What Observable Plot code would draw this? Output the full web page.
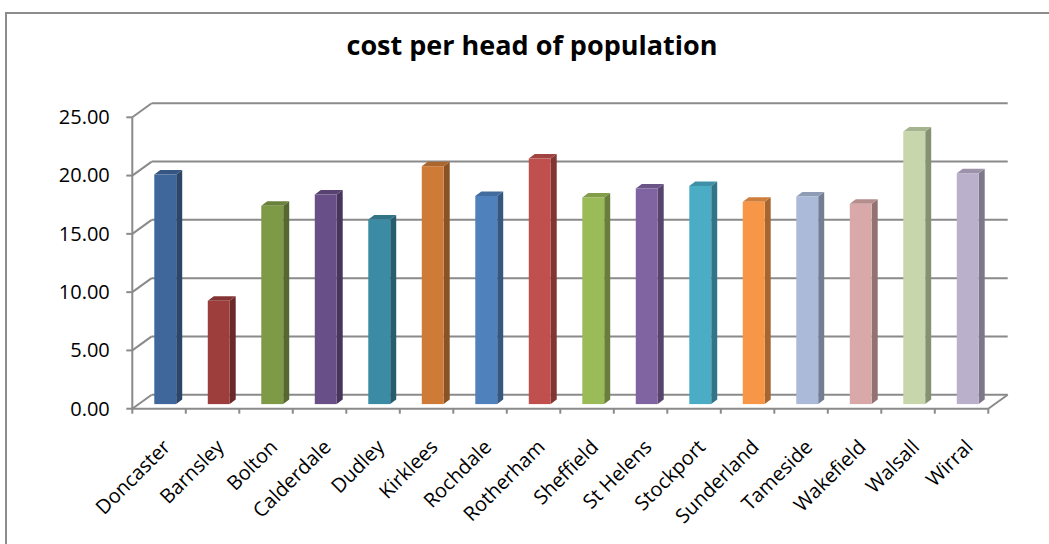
<!DOCTYPE html>
<html>
<head>
<meta charset="utf-8">
<script src="https://cdn.jsdelivr.net/npm/d3@7"></script>
<script src="https://cdn.jsdelivr.net/npm/@observablehq/plot@0.6"></script>
<style>
  body { margin: 0; background: #fff; }
  #chart { position: relative; width: 1049px; height: 544px; overflow: hidden; background: #fff; }
  #border { position: absolute; left: 5px; top: 12px; width: 1100px; height: 600px; border: 2px solid #8c8c8c; }
  #title { position: absolute; left: 532px; top: 30px; transform: translateX(-50%); white-space: nowrap;
           font: bold 27px/30px "Open Sans", sans-serif; color: #000; }
  #plot { position: absolute; left: 0; top: 70px; }
</style>
</head>
<body>
<div id="chart">
  <div id="border"></div>
  <div id="title">cost per head of population</div>
  <div id="plot"></div>
</div>
<script>
// Local authorities and their cost per head of population
const categories = ["Doncaster", "Barnsley", "Bolton", "Calderdale", "Dudley", "Kirklees", "Rochdale", "Rotherham",
                    "Sheffield", "St Helens", "Stockport", "Sunderland", "Tameside", "Wakefield", "Walsall", "Wirral"];
const costPerHead = [19.70, 8.86, 17.01, 17.98, 15.84, 20.41, 17.86, 21.07,
                     17.73, 18.50, 18.72, 17.35, 17.81, 17.18, 23.39, 19.81];
const barColors = ["#3f679b", "#9d3e3d", "#7f9a47", "#694f88", "#3a8ba3", "#cd7b37", "#4f81bd", "#c0504d",
                   "#9bbb59", "#8064a2", "#4bacc6", "#f79646", "#aabad8", "#d9a9a9", "#c7d6ab", "#bab0cb"];
const yTicks = [0, 5, 10, 15, 20, 25];

const rows = categories.map((name, i) => ({name, value: costPerHead[i], color: barColors[i]}));

// Oblique projection used for the pseudo-3D look
const WALL_DX = 19.4, WALL_DY = 14;     // front plane -> back wall
const BAR_DX = 6.2, BAR_DY = 4.6;       // front plane -> bar front faces
const DEPTH_DX = 6, DEPTH_DY = 4.5;     // bar thickness
const BAR_FRACTION = 0.41;              // bar width as a share of the band
const GRID = "#8a8a8a";

function bandwidthOf(x, dims) {
  return typeof x.bandwidth === "function" ? x.bandwidth()
    : (dims.width - dims.marginLeft - dims.marginRight) / categories.length;
}

// Back wall, side wall, floor and value axis
function walls(index, scales, values, dims) {
  const {x, y} = scales;
  const bw = bandwidthOf(x, dims);
  const left = x(categories[0]);
  const right = x(categories[categories.length - 1]) + bw;
  const g = d3.create("svg:g").attr("fill", "none").attr("stroke", GRID).attr("stroke-width", 2);
  const line = (x1, y1, x2, y2) => g.append("line").attr("x1", x1).attr("y1", y1).attr("x2", x2).attr("y2", y2);
  for (const t of yTicks) {
    const yy = y(t);
    line(left + WALL_DX, yy - WALL_DY, right + WALL_DX, yy - WALL_DY);
    line(left, yy, left + WALL_DX, yy - WALL_DY);
    line(left - 6, yy, left, yy);
  }
  const y0 = y(0);
  line(left, y(yTicks[yTicks.length - 1]), left, y0);
  line(left, y0, right, y0);
  line(right, y0, right + WALL_DX, y0 - WALL_DY);
  for (let i = 0; i <= categories.length; i++) {
    const xx = i < categories.length ? x(categories[i]) : right;
    line(xx, y0, xx, y0 + 5);
  }
  return g.node();
}

// Columns drawn as shaded cuboids: front, side and top faces
function columns(index, scales, values, dims) {
  const {x, y} = scales;
  const bw = bandwidthOf(x, dims);
  const w = bw * BAR_FRACTION;
  const g = d3.create("svg:g");
  for (const d of rows) {
    const x1 = x(d.name) + (bw - w) / 2 + BAR_DX;
    const x2 = x1 + w;
    const base = y(0) - BAR_DY;
    const top = y(d.value) - BAR_DY;
    const c = d3.color(d.color);
    g.append("polygon")
      .attr("points", [[x2, base], [x2 + DEPTH_DX, base - DEPTH_DY], [x2 + DEPTH_DX, top - DEPTH_DY], [x2, top]].join(" "))
      .attr("fill", c.darker(1.1));
    g.append("polygon")
      .attr("points", [[x1, top], [x2, top], [x2 + DEPTH_DX, top - DEPTH_DY], [x1 + DEPTH_DX, top - DEPTH_DY]].join(" "))
      .attr("fill", c.darker(0.5));
    g.append("rect")
      .attr("x", x1).attr("y", top).attr("width", w).attr("height", base - top)
      .attr("fill", d.color);
  }
  return g.node();
}

const chart = Plot.plot({
  width: 1049,
  height: 474,
  marginLeft: 132.3,
  marginRight: 60.7,
  marginTop: 47.3,
  marginBottom: 135.3,
  x: {type: "band", domain: categories, padding: 0, round: false, axis: null},
  y: {domain: [0, 25], axis: null},
  style: {fontFamily: "'Open Sans', sans-serif", fontSize: "20px", color: "#000", background: "transparent", overflow: "visible"},
  marks: [
    walls,
    columns,
    Plot.text(yTicks, {y: d => d, text: d => d.toFixed(2), frameAnchor: "left", textAnchor: "end", dx: -23, fill: "#000"}),
    Plot.text(categories, {x: d => d, frameAnchor: "bottom", text: d => d, rotate: -45, textAnchor: "end",
                           lineAnchor: "top", dx: 2, dy: 29, fill: "#000"})
  ]
});
document.getElementById("plot").appendChild(chart);
</script>
</body>
</html>
